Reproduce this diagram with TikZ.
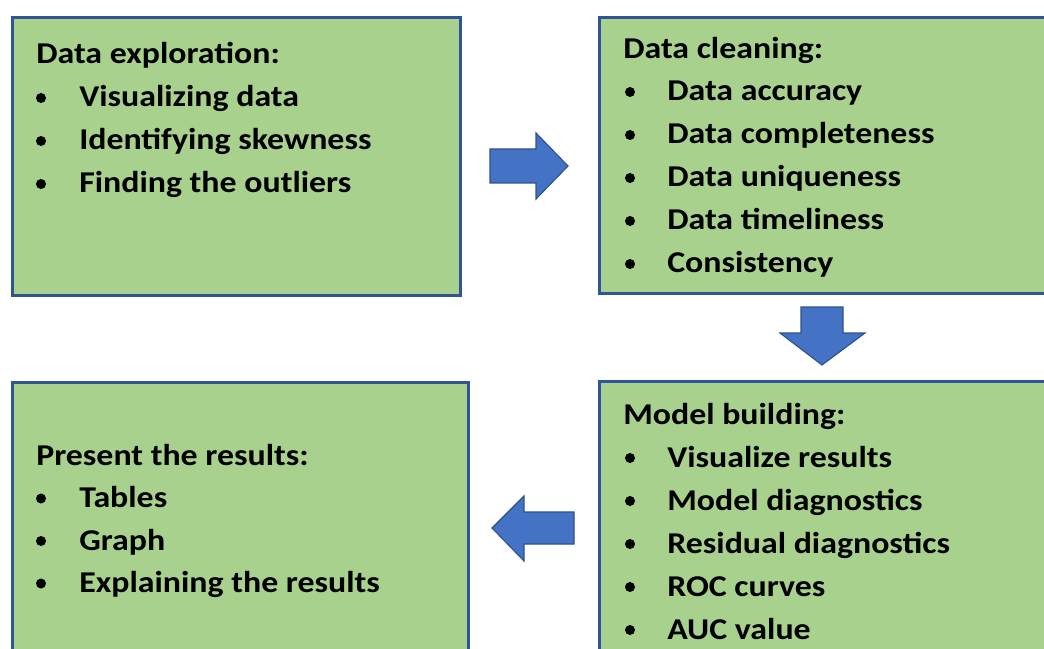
\documentclass[tikz,border=0pt]{standalone}
\usepackage{fontspec}
\setmainfont[FakeStretch=1.12]{Carlito}
\definecolor{BoxFill}{HTML}{A9D18E}
\definecolor{BoxLine}{HTML}{2F5597}
\definecolor{ArrowFill}{HTML}{4472C4}
\definecolor{ArrowLine}{HTML}{2F528F}

\begin{document}
\begin{tikzpicture}[x=0.025cm,y=-0.025cm,every node/.style={inner sep=0pt,font=\fontsize{21.5}{25}\selectfont\bfseries},panel/.style={rectangle,draw=BoxLine,fill=BoxFill,line width=2pt,anchor=north west},label/.style={anchor=base west},dot/.style={circle,fill=black,minimum size=0.25cm},blockarrow/.style={draw=ArrowLine,fill=ArrowFill,line width=0.8pt,line join=miter}]
\useasboundingbox (0,0) rectangle (1044,649);
\clip (0,0) rectangle (1044,649);
\fill[white] (0,0) rectangle (1044,649);
% the four stage boxes (right and lower ones run off the page)
\node[panel,minimum width=11.2cm,minimum height=6.95cm] (explore) at (11,16) {};
\node[panel,minimum width=12cm,minimum height=6.9cm] (clean) at (598,16) {};
\node[panel,minimum width=11.4cm,minimum height=8cm] (present) at (11,381) {};
\node[panel,minimum width=12cm,minimum height=8cm] (model) at (598,380) {};
% box texts
\node[label] (explore-head) at (36,64) {Data exploration:};
\foreach \txt [count=\i] in {Visualizing data,Identifying skewness,Finding the outliers}{
  \node[dot] (explore-dot-\i) at (41,{64+43*\i-9}) {};
  \node[label] (explore-\i) at (79,{64+43*\i}) {\txt};
}
\node[label] (clean-head) at (623,59) {Data cleaning:};
\foreach \txt [count=\i] in {Data accuracy,Data completeness,Data uniqueness,Data timeliness,Consistency}{
  \node[dot] (clean-dot-\i) at (630,{58+43*\i-9}) {};
  \node[label] (clean-\i) at (667,{58+43*\i}) {\txt};
}
\node[label] (model-head) at (623,424) {Model building:};
\foreach \txt [count=\i] in {Visualize results,Model diagnostics,Residual diagnostics,ROC curves,AUC value}{
  \node[dot] (model-dot-\i) at (630,{424+43*\i-9}) {};
  \node[label] (model-\i) at (667,{424+43*\i}) {\txt};
}
\node[label] (present-head) at (36,465) {Present the results:};
\foreach \txt [count=\i] in {Tables,Graph,Explaining the results}{
  \node[dot] (present-dot-\i) at (41,{465+42.5*\i-9}) {};
  \node[label] (present-\i) at (79,{465+42.5*\i}) {\txt};
}
% block arrows between stages
\draw[blockarrow] (490,149) -- (536,149) -- (536,133) -- (568,166) -- (536,199) -- (536,183) -- (490,183) -- cycle;
\draw[blockarrow] (801,307) -- (843,307) -- (843,333) -- (865,333) -- (822,365) -- (780,333) -- (801,333) -- cycle;
\draw[blockarrow] (574,512) -- (524,512) -- (524,496) -- (492,528) -- (524,561) -- (524,544) -- (574,544) -- cycle;
\end{tikzpicture}
\end{document}
